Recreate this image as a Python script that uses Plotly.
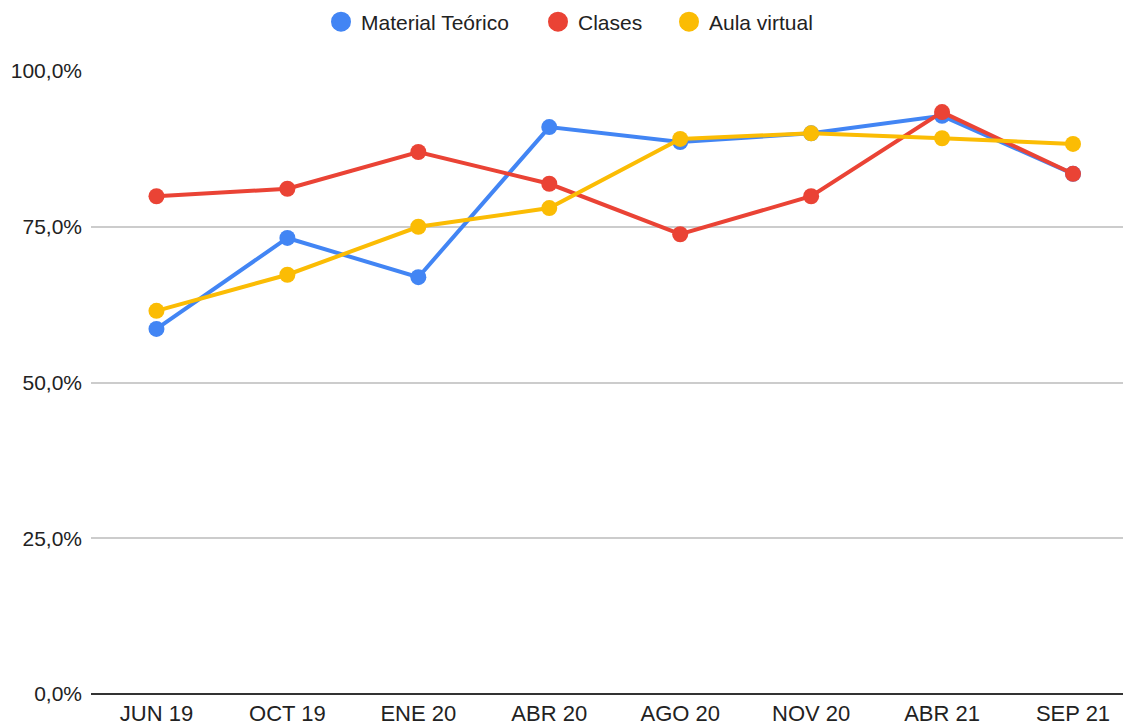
import plotly.graph_objects as go

categories = ["JUN 19", "OCT 19", "ENE 20", "ABR 20", "AGO 20", "NOV 20", "ABR 21", "SEP 21"]
material_teorico = [0.586, 0.732, 0.669, 0.910, 0.886, 0.900, 0.928, 0.835]
clases = [0.799, 0.811, 0.870, 0.819, 0.738, 0.799, 0.934, 0.835]
aula_virtual = [0.615, 0.673, 0.750, 0.780, 0.891, 0.900, 0.892, 0.883]

series = [
    ("Material Teórico", material_teorico, "#4285F4"),
    ("Clases", clases, "#EA4335"),
    ("Aula virtual", aula_virtual, "#FBBC04"),
]
legend_ids = ["legend", "legend2", "legend3"]
legend_centers = [341, 558, 689]  # page px of legend circle centers

fig = go.Figure()
for name, vals, color in series:
    fig.add_trace(go.Scatter(
        x=categories, y=vals, mode="lines+markers", name=name,
        line=dict(color=color, width=4),
        marker=dict(color=color, size=16),
        showlegend=False,
    ))
for (name, vals, color), lid in zip(series, legend_ids):
    fig.add_trace(go.Scatter(
        x=[None], y=[None], mode="markers", name=name, legend=lid,
        marker=dict(color=color, size=16, line=dict(color=color, width=4)),
    ))

layout_legends = {}
for lid, cx in zip(legend_ids, legend_centers):
    layout_legends[lid] = dict(
        orientation="h", xref="container", yref="container",
        x=(cx - 20 - 8) / 1131, xanchor="left",
        y=1 - (22 - 8) / 724, yanchor="middle",
        font=dict(size=21, color="#222"), itemwidth=30, itemsizing="trace",
        bgcolor="rgba(0,0,0,0)",
    )

fig.update_layout(
    width=1131, height=724,
    margin=dict(l=82.5, r=8, t=63, b=38),
    paper_bgcolor="white", plot_bgcolor="white",
    separators=",.",
    font=dict(family="Liberation Sans, Arial, sans-serif", size=21, color="#222"),
    showlegend=True,
    **layout_legends,
)
fig.update_xaxes(range=[-0.5, 7.443], showgrid=False, showline=False, zeroline=False,
                 automargin=False,
                 ticks="", ticklabelstandoff=4, tickfont=dict(size=22, color="#222"))
fig.update_yaxes(range=[0, 1], tickvals=[0, 0.25, 0.5, 0.75, 1.0], tickformat=".1%",
                 automargin=False,
                 showgrid=True, gridcolor="#cccccc", gridwidth=1.5,
                 zeroline=True, zerolinecolor="#333333", zerolinewidth=2,
                 ticks="", ticklabelstandoff=8, tickfont=dict(size=21, color="#222"))

fig.write_html("out.html")
